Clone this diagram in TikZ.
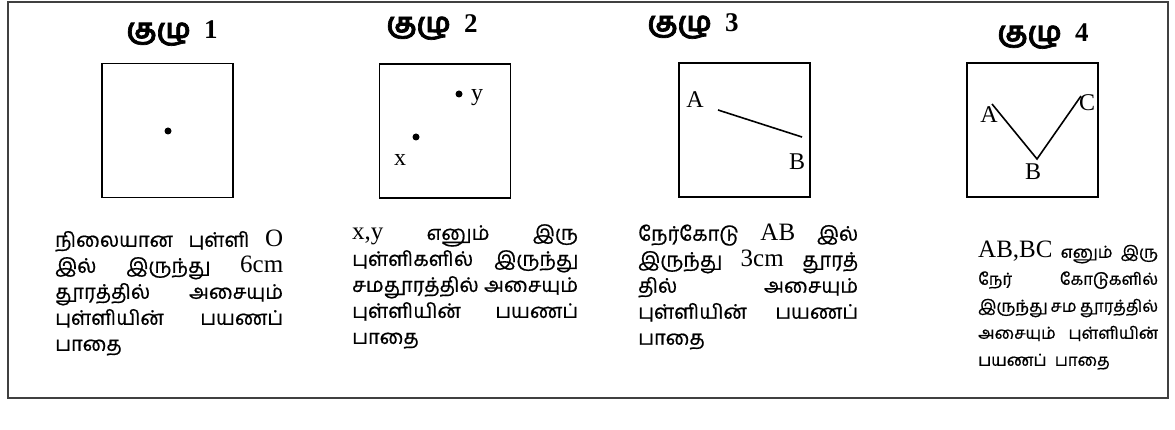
\documentclass[tikz,border=0pt]{standalone}
\usepackage{fontspec}
\setmainfont{Liberation Serif}
\newfontfamily\tam[Script=Tamil,Scale=0.8,FakeBold=0.8]{Hind Madurai}
\newfontfamily\tamn[Script=Tamil,Scale=0.66,FakeBold=0.8]{Hind Madurai}
\newfontfamily\tamb[Script=Tamil,FakeBold=2.5]{Hind Madurai}
\usetikzlibrary{positioning}
\newcommand{\jl}[2]{\makebox[#1][l]{#2}}
\tikzstyle{panel} = [draw, line width=1.6pt, minimum width=131pt, minimum height=134pt, inner sep=0pt]
\tikzstyle{title} = [font=\fontsize{27}{30}\selectfont\bfseries, inner sep=0pt]
\tikzstyle{desc} = [anchor=north west, inner sep=0pt, align=left, font=\fontsize{25}{26}\selectfont]
\tikzstyle{lbl} = [font=\fontsize{24}{26}\selectfont, inner sep=0pt]
\tikzstyle{dot} = [circle, fill, inner sep=0pt, minimum size=7pt]
\tikzstyle{seg} = [line width=1.6pt]

\begin{document}
\begin{tikzpicture}[x=1pt, y=-1pt]
    \useasboundingbox (0,0) rectangle (1175,430);
    \draw[line width=1.2pt, black!75] (8,2) rectangle (1168,398);

    % group 1
    \node[title] (t1) at (172,33) {{\tamb குழு}\ \ 1};
    \node[panel] (p1) at (167.5,130.5) {};
    \node[dot] (o) at (168,131) {};
    \node[desc, text width=228pt] (d1) at (55,230) {\jl{228pt}{{\tam நிலையான}\hfill{\tam புள்ளி}\hfill O}\\
        \jl{228pt}{{\tam இல்}\hfill{\tam இருந்து}\hfill 6cm}\\
        \jl{228pt}{{\tam தூரத்தில்}\hfill{\tam அசையும்}}\\
        \jl{228pt}{{\tam புள்ளியின்}\hfill{\tam பயணப்}}\\
        {\tam பாதை}};

    % group 2
    \node[title] (t2) at (432,27) {{\tamb குழு}\ \ 2};
    \node[panel] (p2) at (445,131) {};
    \node[dot] (x) at (416,137) {};
    \node[dot] (y) at (459,94) {};
    \node[lbl] (lx) at (400,160) {x};
    \node[lbl] (ly) at (477,98) {y};
    \node[desc, text width=226pt] (d2) at (352,224) {\jl{226pt}{x,y\hfill{\tam எனும்}\hfill{\tam இரு}}\\
        \jl{226pt}{{\tam புள்ளிகளில்}\hfill{\tam இருந்து}}\\
        \jl{226pt}{{\tam சமதூரத்தில்}\hfill{\tam அசையும்}}\\
        \jl{226pt}{{\tam புள்ளியின்}\hfill{\tam பயணப்}}\\
        {\tam பாதை}};

    % group 3
    \node[title] (t3) at (693,26) {{\tamb குழு}\ \ 3};
    \node[panel] (p3) at (744.5,130) {};
    \coordinate (a3) at (718,110);
    \coordinate (b3) at (802,137);
    \draw[seg] (a3) -- (b3);
    \node[lbl] (la3) at (695,100) {A};
    \node[lbl] (lb3) at (797,162) {B};
    \node[desc, text width=220pt] (d3) at (638,224) {\jl{220pt}{{\tam நேர்கோடு}\hfill AB\hfill{\tam இல்}}\\
        \jl{220pt}{{\tam இருந்து}\hfill 3cm\hfill{\tam தூரத்}}\\
        \jl{220pt}{{\tam தில்}\hfill{\tam அசையும்}}\\
        \jl{220pt}{{\tam புள்ளியின்}\hfill{\tam பயணப்}}\\
        {\tam பாதை}};

    % group 4
    \node[title] (t4) at (1043,36) {{\tamb குழு}\ \ 4};
    \node[panel] (p4) at (1032.5,130) {};
    \coordinate (a4) at (992,104);
    \coordinate (b4) at (1037,159);
    \coordinate (c4) at (1081,96);
    \draw[seg] (a4) -- (b4) -- (c4);
    \node[lbl] (la4) at (989,115) {A};
    \node[lbl] (lb4) at (1033,172) {B};
    \node[lbl] (lc4) at (1087,103) {C};
    \node[desc, text width=180pt] (d4) at (978,241) {\jl{180pt}{AB,BC\hfill{\tamn எனும்}\hfill{\tamn இரு}}\\[1pt]
        \jl{180pt}{{\tamn நேர்}\hfill{\tamn கோடுகளில்}}\\[1pt]
        \jl{180pt}{{\tamn இருந்து}\hfill{\tamn சம}\hfill{\tamn தூரத்தில்}}\\[1pt]
        \jl{180pt}{{\tamn அசையும்}\hfill{\tamn புள்ளியின்}}\\[1pt]
        {\tamn பயணப் பாதை}};
\end{tikzpicture}
\end{document}
